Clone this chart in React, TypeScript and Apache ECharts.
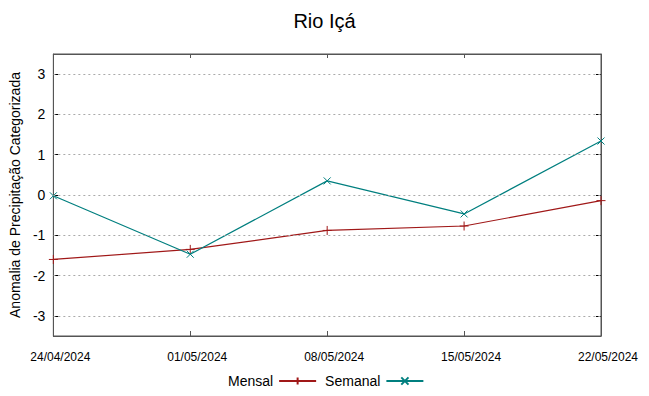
import React, { useEffect, useRef } from "react";
import * as echarts from "echarts";

const dates = ["24/04/2024", "01/05/2024", "08/05/2024", "15/05/2024", "22/05/2024"];
const mensal = [-1.6, -1.35, -0.88, -0.77, -0.14];
const semanal = [-0.02, -1.47, 0.35, -0.47, 1.34];
const yTicks = [-3, -2, -1, 0, 1, 2, 3];

const RED = "#a01818";
const TEAL = "#007f7f";
const FONT = "'Liberation Sans', Arial, sans-serif";
const NARROW = "'Liberation Sans Narrow', 'Liberation Sans', Arial, sans-serif";

const plusPath = "path://M0,5L10,5M5,0L5,10";
const xPath = "path://M0,0L10,10M10,0L0,10";

export default function App() {
  const ref = useRef<HTMLDivElement>(null);
  useEffect(() => {
    if (!ref.current) return;
    document.body.style.margin = "0";
    const chart = echarts.init(ref.current, undefined, { renderer: "svg" });
    chart.setOption({
      animation: false,
      backgroundColor: "#ffffff",
      title: {
        text: "Rio Içá",
        left: "center",
        top: 6,
        textStyle: { fontFamily: FONT, fontSize: 20, fontWeight: "normal", color: "#000" },
      },
      legend: {
        bottom: 3,
        left: 223,
        align: "right",
        itemWidth: 37,
        itemHeight: 9,
        itemGap: 8,
        textStyle: { fontFamily: FONT, fontSize: 14, color: "#000", padding: [0, 1, 0, 0] },
        data: ["Mensal", "Semanal"],
      },
      grid: {
        left: 50,
        right: 48,
        top: 54,
        bottom: 60,
        show: true,
        borderColor: "#555",
        borderWidth: 1,
      },
      xAxis: [
        {
          type: "category",
          data: dates,
          boundaryGap: false,
          axisLine: { show: true, onZero: false, lineStyle: { color: "#555" } },
          axisTick: { show: true, inside: true, length: 5, lineStyle: { color: "#555" } },
          axisLabel: {
            fontFamily: NARROW,
            fontSize: 12,
            color: "#000",
            margin: 15,
            interval: 0,
            padding: [0, 0, 0, 14],
          },
          splitLine: { show: false },
        },
        {
          type: "category",
          data: dates,
          position: "top",
          boundaryGap: false,
          axisLine: { show: true, onZero: false, lineStyle: { color: "#555" } },
          axisTick: { show: true, inside: true, length: 4, lineStyle: { color: "#555" } },
          axisLabel: { show: false },
          splitLine: { show: false },
        },
      ],
      yAxis: [
        {
          type: "value",
          min: -3.5,
          max: 3.5,
          name: "Anomalia de Precipitação Categorizada",
          nameLocation: "middle",
          nameGap: 26,
          nameTextStyle: { fontFamily: FONT, fontSize: 14, color: "#000" },
          axisLine: { show: true, lineStyle: { color: "#555" } },
          axisTick: { show: true, inside: true, length: 5, lineStyle: { color: "#000" }, customValues: yTicks },
          axisLabel: {
            fontFamily: FONT,
            fontSize: 14,
            color: "#000",
            margin: 8,
            customValues: yTicks,
          },
          splitLine: { show: false },
        },
        {
          type: "value",
          min: -3.5,
          max: 3.5,
          position: "right",
          axisLine: { show: true, lineStyle: { color: "#555" } },
          axisTick: { show: true, inside: true, length: 5, lineStyle: { color: "#000" }, customValues: yTicks },
          axisLabel: { show: false, customValues: yTicks },
          splitLine: { show: false },
        },
      ],
      series: [
        {
          name: "Mensal",
          type: "line",
          data: mensal,
          symbol: plusPath,
          symbolSize: 9,
          showSymbol: true,
          color: RED,
          lineStyle: { color: RED, width: 1.2 },
          itemStyle: { color: "none", borderColor: RED, borderWidth: 1 },
          z: 3,
          markLine: {
            silent: true,
            symbol: ["none", "none"],
            label: { show: false },
            animation: false,
            lineStyle: { color: "#aaa", type: [2, 3], width: 1 },
            emphasis: { disabled: true },
            data: yTicks.map((v) => ({ yAxis: v })),
          },
        },
        {
          name: "Semanal",
          type: "line",
          data: semanal,
          symbol: xPath,
          symbolSize: 7,
          showSymbol: true,
          color: TEAL,
          lineStyle: { color: TEAL, width: 1.2 },
          itemStyle: { color: "none", borderColor: TEAL, borderWidth: 1 },
          z: 4,
        },
      ],
    });
    return () => chart.dispose();
  }, []);
  return <div ref={ref} style={{ width: 649, height: 396 }} />;
}
